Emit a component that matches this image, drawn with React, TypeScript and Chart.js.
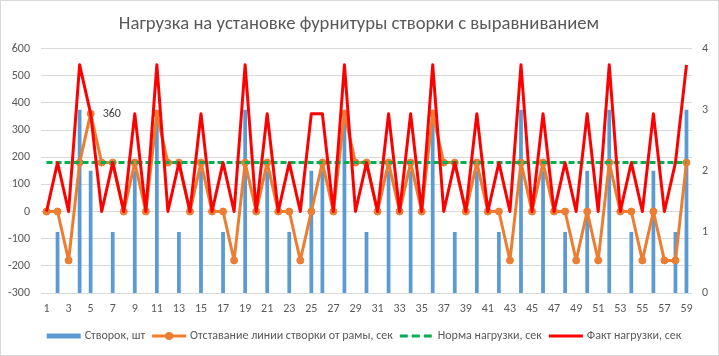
import React, { useEffect, useRef } from "react";
import { Chart, registerables } from "chart.js";

Chart.register(...registerables);

const FONT = "Carlito, Calibri, Lato, 'Liberation Sans', sans-serif";

const titleText = "Нагрузка на установке фурнитуры створки с выравниванием";

const categories = [
  "1", "2", "3", "4", "5", "6", "7", "8", "9", "10",
  "11", "12", "13", "14", "15", "16", "17", "18", "19", "20",
  "21", "22", "23", "24", "25", "26", "27", "28", "29", "30",
  "31", "32", "33", "34", "35", "36", "37", "38", "39", "40",
  "41", "42", "43", "44", "45", "46", "47", "48", "49", "50",
  "51", "52", "53", "54", "55", "56", "57", "58", "59",
];

const seriesNames = [
  "Створок, шт",
  "Отставание линии створки от рамы, сек",
  "Норма нагрузки, сек",
  "Факт нагрузки, сек",
];

// Створок, шт (right axis)
const sashCount = [
  0, 1, 0, 3, 2, 0, 1, 0, 2, 0,
  3, 0, 1, 0, 2, 0, 1, 0, 3, 0,
  2, 0, 1, 0, 2, 2, 0, 3, 0, 1,
  0, 2, 0, 2, 0, 3, 0, 1, 0, 2,
  0, 1, 0, 3, 0, 2, 0, 1, 0, 2,
  0, 3, 0, 1, 0, 2, 0, 1, 3,
];

// Отставание линии створки от рамы, сек (left axis)
const lag = [
  0, 0, -180, 180, 360, 180, 180, 0, 180, 0,
  360, 180, 180, 0, 180, 0, 0, -180, 180, 0,
  180, 0, 0, -180, 0, 180, 0, 360, 180, 180,
  0, 180, 0, 180, 0, 360, 180, 180, 0, 180,
  0, 0, -180, 180, 0, 180, 0, 0, -180, 0,
  -180, 180, 0, 0, -180, 0, -180, -180, 180,
];

// Норма нагрузки, сек (left axis)
const norm = [
  180, 180, 180, 180, 180, 180, 180, 180, 180, 180,
  180, 180, 180, 180, 180, 180, 180, 180, 180, 180,
  180, 180, 180, 180, 180, 180, 180, 180, 180, 180,
  180, 180, 180, 180, 180, 180, 180, 180, 180, 180,
  180, 180, 180, 180, 180, 180, 180, 180, 180, 180,
  180, 180, 180, 180, 180, 180, 180, 180, 180,
];

// Факт нагрузки, сек (left axis)
const actual = [
  0, 180, 0, 540, 360, 0, 180, 0, 360, 0,
  540, 0, 180, 0, 360, 0, 180, 0, 540, 0,
  360, 0, 180, 0, 360, 360, 0, 540, 0, 180,
  0, 360, 0, 360, 0, 540, 0, 180, 0, 360,
  0, 180, 0, 540, 0, 360, 0, 180, 0, 360,
  0, 540, 0, 180, 0, 360, 0, 180, 540,
];

const labeledLagIndex = 4;

const COLORS = {
  bar: "#5b9bd5",
  lag: "#ed7d31",
  norm: "#00b050",
  actual: "#ff0000",
  text: "#595959",
  grid: "#d9d9d9",
};

const customPlugin = {
  id: "customDecor",
  beforeDraw(chart: any) {
    const ctx = chart.ctx;
    ctx.save();
    ctx.fillStyle = "#ffffff";
    ctx.fillRect(0, 0, chart.width, chart.height);
    ctx.restore();
  },
  afterDatasetsDraw(chart: any) {
    const ctx = chart.ctx;
    const meta = chart.getDatasetMeta(1);
    const pt = meta.data[labeledLagIndex];
    if (pt) {
      ctx.save();
      ctx.font = `12px ${FONT}`;
      ctx.fillStyle = "#404040";
      ctx.textAlign = "left";
      ctx.textBaseline = "middle";
      ctx.fillText(String(lag[labeledLagIndex]), pt.x + 12, pt.y);
      ctx.restore();
    }
  },
  afterDraw(chart: any) {
    const ctx = chart.ctx;
    const area = chart.chartArea;
    ctx.save();
    // title
    ctx.font = `18.67px ${FONT}`;
    ctx.fillStyle = COLORS.text;
    ctx.textAlign = "center";
    ctx.textBaseline = "alphabetic";
    ctx.fillText(titleText, 359, 28.5);

    // legend
    ctx.font = `12px ${FONT}`;
    const keyW = 34;
    const gapKT = 4;
    const gapItem = 7;
    const widths = seriesNames.map((t) => keyW + gapKT + ctx.measureText(t).width);
    const total = widths.reduce((a, b) => a + b, 0) + gapItem * (widths.length - 1);
    let x = 364 - total / 2;
    const y = 336;
    seriesNames.forEach((name, i) => {
      if (i === 0) {
        ctx.fillStyle = COLORS.bar;
        ctx.fillRect(x, y - 2.5, keyW, 5);
      } else {
        const color = i === 1 ? COLORS.lag : i === 2 ? COLORS.norm : COLORS.actual;
        ctx.strokeStyle = color;
        ctx.lineWidth = 3;
        ctx.setLineDash(i === 2 ? [8, 4] : []);
        ctx.beginPath();
        ctx.moveTo(x, y);
        ctx.lineTo(x + keyW, y);
        ctx.stroke();
        ctx.setLineDash([]);
        if (i === 1) {
          ctx.fillStyle = color;
          ctx.beginPath();
          ctx.arc(x + keyW / 2, y, 4, 0, Math.PI * 2);
          ctx.fill();
        }
      }
      ctx.fillStyle = COLORS.text;
      ctx.textAlign = "left";
      ctx.textBaseline = "middle";
      ctx.fillText(name, x + keyW + gapKT, y);
      x += widths[i] + gapItem;
    });

    // outer border
    ctx.strokeStyle = COLORS.grid;
    ctx.lineWidth = 1;
    ctx.strokeRect(0.5, 0.5, chart.width - 1, chart.height - 1);
    ctx.restore();
  },
};

export default function App() {
  const ref = useRef<HTMLCanvasElement>(null);

  useEffect(() => {
    document.body.style.margin = "0";
    Chart.defaults.font.family = FONT;
    Chart.defaults.font.size = 12;
    Chart.defaults.color = COLORS.text;

    const chart = new Chart(ref.current as HTMLCanvasElement, {
      type: "bar",
      data: {
        labels: categories,
        datasets: [
          {
            type: "bar",
            label: seriesNames[0],
            data: sashCount,
            yAxisID: "y1",
            backgroundColor: COLORS.bar,
            borderWidth: 0,
            barPercentage: 0.34,
            categoryPercentage: 1,
            order: 4,
          },
          {
            type: "line",
            label: seriesNames[1],
            data: lag,
            yAxisID: "y",
            borderColor: COLORS.lag,
            backgroundColor: COLORS.lag,
            borderWidth: 3,
            borderJoinStyle: "round",
            pointRadius: 3.5,
            pointBorderWidth: 1,
            pointBackgroundColor: COLORS.lag,
            pointBorderColor: COLORS.lag,
            tension: 0,
            fill: false,
            order: 3,
          },
          {
            type: "line",
            label: seriesNames[2],
            data: norm,
            yAxisID: "y",
            borderColor: COLORS.norm,
            backgroundColor: COLORS.norm,
            borderWidth: 3,
            borderDash: [6, 3],
            pointRadius: 0,
            tension: 0,
            fill: false,
            order: 2,
          },
          {
            type: "line",
            label: seriesNames[3],
            data: actual,
            yAxisID: "y",
            borderColor: COLORS.actual,
            backgroundColor: COLORS.actual,
            borderWidth: 3,
            borderJoinStyle: "round",
            pointRadius: 0,
            tension: 0,
            fill: false,
            order: 1,
          },
        ],
      },
      options: {
        responsive: false,
        animation: false,
        devicePixelRatio: 1,
        layout: { padding: { top: 48.5, left: 0, right: 0, bottom: 0 } },
        plugins: {
          legend: { display: false },
          title: { display: false },
          tooltip: { enabled: false },
        },
        scales: {
          x: {
            grid: { display: false, drawTicks: false },
            border: { display: false },
            ticks: {
              autoSkip: false,
              maxRotation: 0,
              minRotation: 0,
              padding: 9,
              color: COLORS.text,
              font: { size: 12 },
              callback: (_v: any, index: number) => (index % 2 === 0 ? categories[index] : ""),
            },
            afterFit: (s: any) => {
              s.height = 63;
            },
          },
          y: {
            position: "left",
            min: -300,
            max: 600,
            ticks: { stepSize: 100, padding: 11, color: COLORS.text, font: { size: 12 } },
            grid: { color: COLORS.grid, drawTicks: false, lineWidth: 1 },
            border: { display: false },
            afterFit: (s: any) => {
              s.width = 41;
            },
          },
          y1: {
            position: "right",
            min: 0,
            max: 4,
            ticks: { stepSize: 1, padding: 10, color: COLORS.text, font: { size: 12 } },
            grid: { display: false, drawTicks: false },
            border: { display: false },
            afterFit: (s: any) => {
              s.width = 27;
            },
          },
        },
      },
      plugins: [customPlugin],
    } as any);

    return () => chart.destroy();
  }, []);

  return (
    <div style={{ position: "fixed", left: 0, top: 0, width: 719, height: 356 }}>
      <canvas ref={ref} width={719} height={356} style={{ display: "block", width: 719, height: 356 }} />
    </div>
  );
}
